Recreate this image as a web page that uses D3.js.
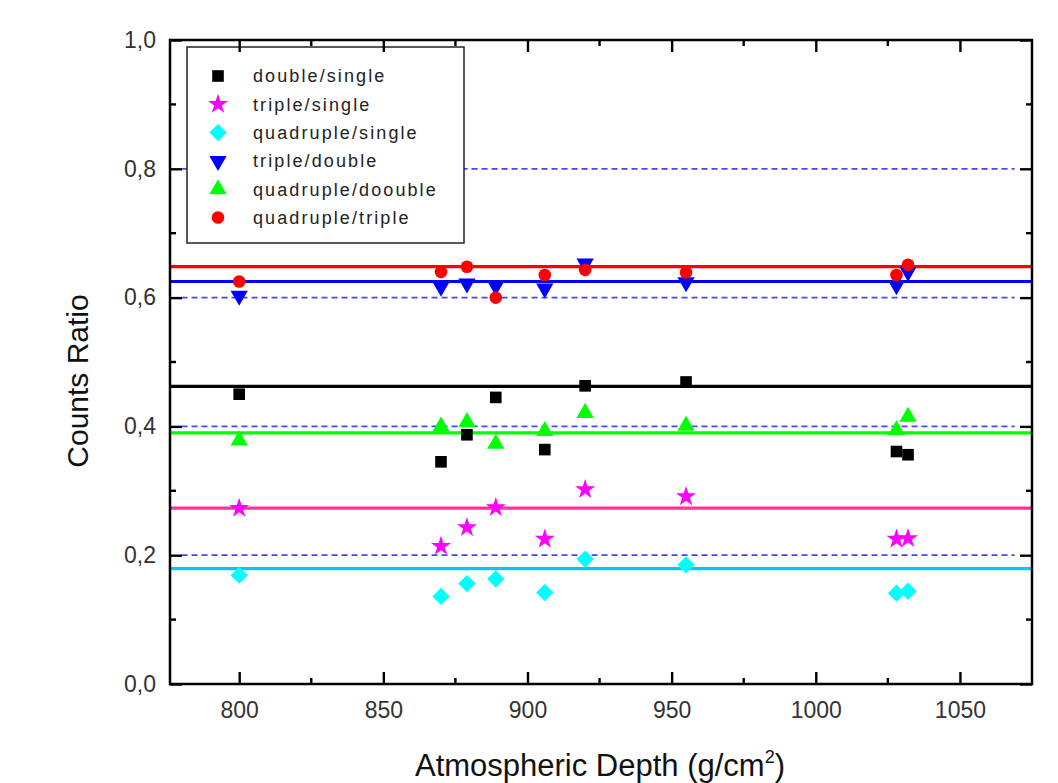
<!DOCTYPE html>
<html><head><meta charset="utf-8">
<script src="https://cdn.jsdelivr.net/npm/d3@7"></script>
<style>
html,body{margin:0;padding:0;background:#fff;}
svg{display:block;font-family:"Liberation Sans",Arial,sans-serif;}
</style></head>
<body>
<svg id="chart" width="1058" height="783"></svg>
<script>
// ---- data ----
const depths = [800, 870, 879, 889, 906, 920, 955, 1028, 1032];
const doubleSingle    = [0.450, 0.345, 0.387, 0.445, 0.364, 0.463, 0.469, 0.361, 0.356];
const tripleSingle    = [0.273, 0.214, 0.243, 0.274, 0.225, 0.302, 0.291, 0.225, 0.226];
const quadrupleSingle = [0.169, 0.136, 0.156, 0.163, 0.142, 0.194, 0.185, 0.141, 0.144];
const tripleDouble    = [0.603, 0.617, 0.622, 0.618, 0.614, 0.653, 0.624, 0.619, 0.640];
const quadrupleDouble = [0.378, 0.400, 0.407, 0.373, 0.393, 0.421, 0.401, 0.394, 0.415];
const quadrupleTriple = [0.625, 0.640, 0.648, 0.600, 0.635, 0.643, 0.639, 0.635, 0.651];
const seriesNames = ["double/single","triple/single","quadruple/single","triple/double","quadruple/doouble","quadruple/triple"];
const meanLevels = [0.462, 0.273, 0.179, 0.625, 0.390, 0.648];
const refLevels = [0.2, 0.4, 0.6, 0.8];
const refRange = [780, 1069];
const xTicks = [800, 850, 900, 950, 1000, 1050];
const yTicks = [0.0, 0.2, 0.4, 0.6, 0.8, 1.0];

// ---- styles ----
const markerColors = ["#000000", "#ff00ff", "#00ffff", "#0000ff", "#00ff00", "#ff0000"];
const lineColors   = ["#000000", "#ff3399", "#00c8ff", "#0000ff", "#00ff00", "#ff0000"];
const symbols = [
  {type: d3.symbolSquare, size: 135, rot: 0},
  {type: d3.symbolStar, size: 125, rot: 0},
  {type: d3.symbolSquare, size: 150, rot: 45},
  {type: d3.symbolTriangle, size: 130, rot: 180},
  {type: d3.symbolTriangle, size: 130, rot: 0},
  {type: d3.symbolCircle, size: 125, rot: 0}
];
const allSeries = [doubleSingle, tripleSingle, quadrupleSingle, tripleDouble, quadrupleDouble, quadrupleTriple];

const svg = d3.select("#chart");
const L = 170, R = 1032, T = 40, B = 684;
const x = d3.scaleLinear().domain([776, 1075]).range([L, R]);
const y = d3.scaleLinear().domain([0, 1]).range([B, T]);

// dashed reference lines
svg.append("g").selectAll("line").data(refLevels).join("line")
  .attr("x1", x(refRange[0])).attr("x2", x(refRange[1]))
  .attr("y1", d => y(d)).attr("y2", d => y(d))
  .attr("stroke", "#4646ff").attr("stroke-width", 1.8)
  .attr("stroke-dasharray", "6,4");

// mean lines
svg.append("g").selectAll("line").data(meanLevels).join("line")
  .attr("x1", L).attr("x2", R)
  .attr("y1", d => y(d)).attr("y2", d => y(d))
  .attr("stroke", (d, i) => lineColors[i]).attr("stroke-width", 3.2);

// markers
allSeries.forEach((vals, si) => {
  const s = symbols[si];
  const gen = d3.symbol().type(s.type).size(s.size);
  svg.append("g").selectAll("path").data(vals).join("path")
    .attr("d", gen)
    .attr("transform", (d, i) => `translate(${x(depths[i])},${y(d)}) rotate(${s.rot})`)
    .attr("fill", markerColors[si]);
});

// legend
const lg = svg.append("g");
lg.append("rect").attr("x", 187).attr("y", 47).attr("width", 277).attr("height", 196)
  .attr("fill", "#fff").attr("stroke", "#222").attr("stroke-width", 1.5);
seriesNames.forEach((name, i) => {
  const cy = 76 + i * 28.3;
  const s = symbols[i];
  lg.append("path").attr("d", d3.symbol().type(s.type).size(s.size)())
    .attr("transform", `translate(218,${cy}) rotate(${s.rot})`)
    .attr("fill", markerColors[i]);
  lg.append("text").attr("x", 253).attr("y", cy).attr("dy", "0.35em")
    .attr("font-size", 18).attr("letter-spacing", 2.1).attr("fill", "#222")
    .text(name);
});

// axes (ticks inward, mirrored)
const xAxisB = d3.axisBottom(x).tickValues(xTicks).tickSizeInner(-12).tickSizeOuter(0).tickPadding(18).tickFormat(d3.format("d"));
const xAxisT = d3.axisTop(x).tickValues(xTicks).tickSizeInner(-12).tickSizeOuter(0).tickFormat("");
const yFmt = d => d3.format(".1f")(d).replace(".", ",");
const yAxisL = d3.axisLeft(y).tickValues(yTicks).tickSizeInner(-12).tickSizeOuter(0).tickPadding(14).tickFormat(yFmt);
const yAxisR = d3.axisRight(y).tickValues(yTicks).tickSizeInner(-12).tickSizeOuter(0).tickFormat("");

const xMinor = d3.range(825, 1075, 50);
const yMinor = d3.range(0.1, 1.0, 0.2);

function styleAxis(g) {
  g.select(".domain").remove();
  g.selectAll(".tick line").attr("stroke", "#000").attr("stroke-width", 2.4);
  g.selectAll(".tick text").attr("font-size", 23).attr("fill", "#333")
    .attr("font-family", "'Liberation Sans',Arial,sans-serif");
}
svg.append("g").attr("transform", `translate(0,${B})`).call(xAxisB).call(styleAxis);
svg.append("g").attr("transform", `translate(0,${T})`).call(xAxisT).call(styleAxis);
svg.append("g").attr("transform", `translate(${L},0)`).call(yAxisL).call(styleAxis);
svg.append("g").attr("transform", `translate(${R},0)`).call(yAxisR).call(styleAxis);

// minor ticks
svg.append("g").selectAll("line.mb").data(xMinor).join("line")
  .attr("x1", d => x(d)).attr("x2", d => x(d)).attr("y1", B).attr("y2", B - 6)
  .attr("stroke", "#000").attr("stroke-width", 2.4);
svg.append("g").selectAll("line.mt").data(xMinor).join("line")
  .attr("x1", d => x(d)).attr("x2", d => x(d)).attr("y1", T).attr("y2", T + 6)
  .attr("stroke", "#000").attr("stroke-width", 2.4);
svg.append("g").selectAll("line.ml").data(yMinor).join("line")
  .attr("x1", L).attr("x2", L + 6).attr("y1", d => y(d)).attr("y2", d => y(d))
  .attr("stroke", "#000").attr("stroke-width", 2.4);
svg.append("g").selectAll("line.mr").data(yMinor).join("line")
  .attr("x1", R).attr("x2", R - 6).attr("y1", d => y(d)).attr("y2", d => y(d))
  .attr("stroke", "#000").attr("stroke-width", 2.4);

// frame
svg.append("rect").attr("x", L).attr("y", T).attr("width", R - L).attr("height", B - T)
  .attr("fill", "none").attr("stroke", "#000").attr("stroke-width", 2.5);

// axis titles
const xt = svg.append("text").attr("x", 600).attr("y", 776).attr("text-anchor", "middle")
  .attr("font-size", 31).attr("fill", "#111");
xt.append("tspan").text("Atmospheric Depth (g/cm");
xt.append("tspan").attr("font-size", 18).attr("dy", -13).text("2");
xt.append("tspan").attr("dy", 13).text(")");

svg.append("text").attr("transform", "translate(88,381) rotate(-90)")
  .attr("text-anchor", "middle").attr("font-size", 30).attr("fill", "#111")
  .text("Counts Ratio");
</script>
</body></html>
